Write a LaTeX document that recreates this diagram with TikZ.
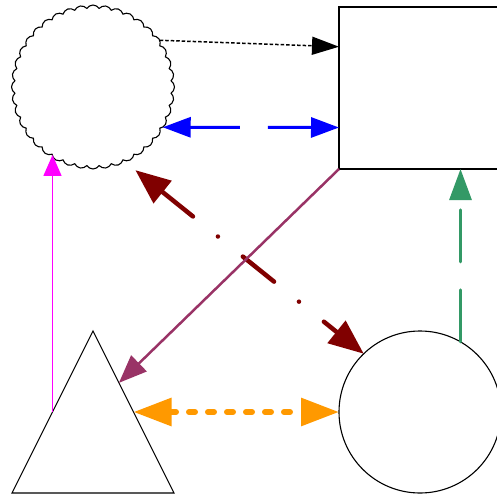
\documentclass[tikz,border=0pt]{standalone}
\usetikzlibrary{arrows.meta,shapes.symbols,shapes.geometric,calc}
\definecolor{maroonline}{RGB}{128,0,0}
\definecolor{plumline}{RGB}{153,51,102}
\definecolor{orangeline}{RGB}{255,153,0}
\definecolor{greenline}{RGB}{51,153,102}
\definecolor{pinkline}{RGB}{255,0,255}

\begin{document}
\begin{tikzpicture}[x=1pt, y=-1pt, every node/.style={draw, line width=1.1pt, inner sep=0pt, outer sep=0pt}]
    \useasboundingbox (0,0) rectangle (496,498);
    \node[cloud, cloud puffs=40, cloud puff arc=115, aspect=1, minimum width=163pt, minimum height=164pt] (cl) at (93,87) {};
    \node[rectangle, minimum width=162pt, minimum height=162pt] (bx) at (420,88) {};
    \node[circle, minimum size=162pt] (ci) at (420,412) {};
    \node[isosceles triangle, isosceles triangle stretches, shape border rotate=90, minimum width=162pt, minimum height=162pt, anchor=apex] (tr) at (93,331) {};

    \coordinate (trl) at ($(tr.apex)!0.5!(tr.left corner)$);
    \coordinate (trr) at ($(tr.apex)!0.5!(tr.right corner)$);
    \coordinate (clm) at ($(cl.center)!1.14!(cl.-63)$);

    \draw[line width=1.5pt, dash pattern=on 3.5pt off 2pt, -{Triangle[length=27pt, width=18pt]}] (cl.35) -- (bx.153);
    \draw[blue, line width=3pt, dash pattern=on 50pt off 28pt, {Triangle[length=28pt, width=20pt]}-{Triangle[length=28pt, width=20pt]}] (cl.-30) -- (bx.206);
    \draw[pinkline, line width=1.5pt, -{Triangle[length=21pt, width=18pt]}] (trl) -- (trl |- cl.-121);
    \draw[maroonline, line width=4.5pt, line cap=round, dash pattern=on 40pt off 32pt on 0pt off 32pt, {Triangle[length=35pt, width=28pt]}-{Triangle[length=35pt, width=28pt]}] (clm) -- (ci.134);
    \draw[plumline, line width=2.5pt, -{Triangle[length=28pt, width=22pt]}] (bx.south west) -- ($(tr.apex)!0.32!(tr.right corner)$);
    \draw[orangeline, line width=6pt, line cap=round, dash pattern=on 6pt off 13pt, {Triangle[length=38pt, width=27pt]}-{Triangle[length=38pt, width=27pt]}] (trr) -- (ci.west);
    \draw[greenline, line width=3pt, line cap=round, dash pattern=on 52pt off 28pt, -{Triangle[length=31pt, width=22pt]}] (ci.60) -- (ci.60 |- bx.south);
\end{tikzpicture}
\end{document}
